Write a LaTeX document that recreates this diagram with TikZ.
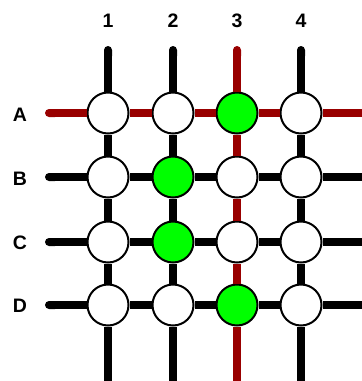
\documentclass[tikz,border=0pt]{standalone}
\usepackage{fontspec}
\setmainfont{Liberation Sans}
\usetikzlibrary{arrows.meta}
\definecolor{wirered}{RGB}{153,0,0}
\definecolor{hitgreen}{RGB}{0,255,0}
\begin{document}
\begin{tikzpicture}[x=1pt,y=-1pt,
  cell/.style={circle,draw=black,line width=2pt,fill=white,minimum size=41pt,inner sep=0pt},
  hit/.style={cell,fill=hitgreen},
  wire/.style={line width=8pt,black,line cap=butt},
  redwire/.style={wire,wirered},
  freeend/.style={{Round Cap[]}-{}},
  lab/.style={font=\bfseries\fontsize{19.5}{20}\selectfont,inner sep=0pt}]
\useasboundingbox (0,0) rectangle (362,381);
% labels
\node[lab] (c1) at (108,21) {1};
\node[lab] (c2) at (173,21) {2};
\node[lab] (c3) at (237,21) {3};
\node[lab] (c4) at (301,21) {4};
\node[lab] (rA) at (20,115) {A};
\node[lab] (rB) at (20,179) {B};
\node[lab] (rC) at (20,243) {C};
\node[lab] (rD) at (20,306) {D};
% free ends
\foreach \c/\x in {1/108,2/173,3/237,4/301}{
  \coordinate (t\c) at (\x,46);
  \coordinate (b\c) at (\x,390);
}
\foreach \r/\y in {A/113,B/177,C/242,D/305}{
  \coordinate (l\r) at (45,\y);
  \coordinate (e\r) at (370,\y);
}
% cells
\node[cell] (A1) at (108,113) {};
\node[cell] (A2) at (173,113) {};
\node[hit]  (A3) at (237,113) {};
\node[cell] (A4) at (301,113) {};
\node[cell] (B1) at (108,177) {};
\node[hit]  (B2) at (173,177) {};
\node[cell] (B3) at (237,177) {};
\node[cell] (B4) at (301,177) {};
\node[cell] (C1) at (108,242) {};
\node[hit]  (C2) at (173,242) {};
\node[cell] (C3) at (237,242) {};
\node[cell] (C4) at (301,242) {};
\node[cell] (D1) at (108,305) {};
\node[cell] (D2) at (173,305) {};
\node[hit]  (D3) at (237,305) {};
\node[cell] (D4) at (301,305) {};
% horizontal wires
\draw[redwire,freeend] (lA) -- (A1);
\draw[redwire] (A1) -- (A2);
\draw[redwire] (A2) -- (A3);
\draw[redwire] (A3) -- (A4);
\draw[redwire] (A4) -- (eA);
\foreach \r in {B,C,D}{
  \draw[wire,freeend] (l\r) -- (\r1);
  \draw[wire] (\r1) -- (\r2);
  \draw[wire] (\r2) -- (\r3);
  \draw[wire] (\r3) -- (\r4);
  \draw[wire] (\r4) -- (e\r);
}
% vertical wires
\foreach \c in {1,2,4}{
  \draw[wire,freeend] (t\c) -- (A\c);
  \draw[wire] (A\c) -- (B\c);
  \draw[wire] (B\c) -- (C\c);
  \draw[wire] (C\c) -- (D\c);
  \draw[wire] (D\c) -- (b\c);
}
\draw[redwire,freeend] (t3) -- (A3);
\draw[redwire] (A3) -- (B3);
\draw[redwire] (B3) -- (C3);
\draw[redwire] (C3) -- (D3);
\draw[redwire] (D3) -- (b3);
\end{tikzpicture}
\end{document}
